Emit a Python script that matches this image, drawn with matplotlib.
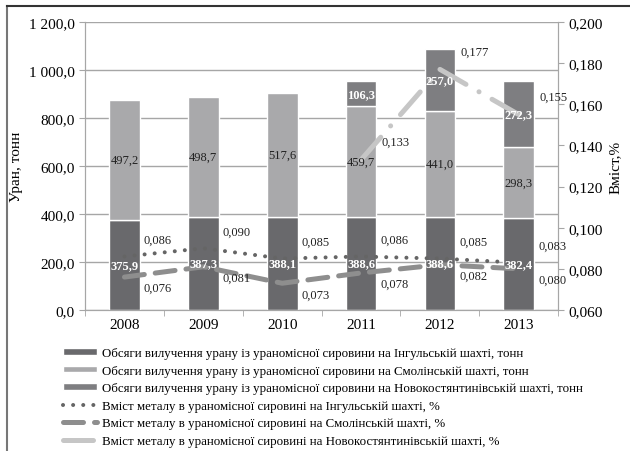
import numpy as np
import matplotlib
matplotlib.use("Agg")
import matplotlib.pyplot as plt
from matplotlib.lines import Line2D
from matplotlib.ticker import FixedLocator, FuncFormatter

plt.rcParams['font.family'] = ['Liberation Serif', 'DejaVu Serif']

years = ['2008', '2009', '2010', '2011', '2012', '2013']
inhul_t = [375.9, 387.3, 388.1, 388.6, 388.6, 382.4]
smol_t = [497.2, 498.7, 517.6, 459.7, 441.0, 298.3]
novo_t = [0, 0, 0, 106.3, 257.0, 272.3]
inhul_pct = [0.086, 0.090, 0.085, 0.086, 0.085, 0.083]
smol_pct = [0.076, 0.081, 0.073, 0.078, 0.082, 0.080]
novo_years = ['2011', '2012', '2013']
novo_pct = [0.133, 0.177, 0.155]

left_ticks = [0, 200, 400, 600, 800, 1000, 1200]
right_ticks = [0.060, 0.080, 0.100, 0.120, 0.140, 0.160, 0.180, 0.200]

labels = [
    'Обсяги вилучення урану із ураномісної сировини на Інгульській шахті, тонн',
    'Обсяги вилучення урану із ураномісної сировини на Смолінській шахті, тонн',
    'Обсяги вилучення урану із ураномісної сировини на Новокостянтинівській шахті, тонн',
    'Вміст металу в ураномісної сировині на Інгульській шахті, %',
    'Вміст металу в ураномісної сировині на Смолінській шахті, %',
    'Вміст металу в ураномісної сировині на Новокостянтинівській шахті, %',
]

c_inhul = '#69696c'
c_smol = '#a9a9ab'
c_novo = '#7e7e81'


def fmt1(v):
    s = f'{v:,.1f}'
    return s.replace(',', ' ').replace('.', ',')


def fmt3(v):
    return f'{v:.3f}'.replace('.', ',')


fig = plt.figure(figsize=(6.3, 4.52), dpi=100)
ax1 = fig.add_axes([0.135, 0.312, 0.751, 0.637])
ax2 = ax1.twinx()

x = np.arange(len(years))
w = 0.39
inhul_a = np.array(inhul_t)
smol_a = np.array(smol_t)
novo_a = np.array(novo_t)

ax1.bar(x, inhul_a, w, color=c_inhul, edgecolor='white', linewidth=1, label=labels[0])
ax1.bar(x, smol_a, w, bottom=inhul_a, color=c_smol, edgecolor='white', linewidth=1, label=labels[1])
nx = x[novo_a > 0]
ax1.bar(nx, novo_a[novo_a > 0], w, bottom=(inhul_a + smol_a)[novo_a > 0], color=c_novo,
        edgecolor='white', linewidth=1, label=labels[2])

ax1.set_ylim(0, 1200)
ax1.set_xlim(-0.5, len(years) - 0.5)
ax1.yaxis.set_major_locator(FixedLocator(left_ticks))
ax1.yaxis.set_major_formatter(FuncFormatter(lambda v, p: fmt1(v)))
ax1.set_axisbelow(True)
ax1.grid(axis='y', color='#a6a6a6', linewidth=1)
ax1.set_xticks(x)
ax1.set_xticklabels(years)
ax1.set_xticks(np.arange(len(years) + 1) - 0.5, minor=True)
ax1.tick_params(axis='x', which='major', length=0, labelsize=11, pad=6)
ax1.tick_params(axis='x', which='minor', length=4, color='#a6a6a6')
ax1.tick_params(axis='y', length=4, color='#a6a6a6', labelsize=11)
ax1.set_ylabel('Уран, тонн', fontsize=11, labelpad=4)

# lines
ax2.plot(x, inhul_pct, color='#656565', linewidth=2.9, linestyle=(0, (0.01, 2.5)),
         dash_capstyle='round', label=labels[3])
ax2.plot(x, smol_pct, color='#8e8e8e', linewidth=3.6, linestyle=(0, (4, 2.2)),
         dash_capstyle='round', label=labels[4])
nx2 = [years.index(y) for y in novo_years]
ax2.plot(nx2, novo_pct, color='#c6c6c6', linewidth=3.6, linestyle=(0, (6, 3, 0.01, 3)),
         dash_capstyle='round', solid_capstyle='round', label=labels[5])
ax2.set_ylim(0.060, 0.200)
ax2.yaxis.set_major_locator(FixedLocator(right_ticks))
ax2.yaxis.set_major_formatter(FuncFormatter(lambda v, p: fmt3(v)))
ax2.tick_params(axis='y', length=4, color='#a6a6a6', labelsize=11)
ax2.set_ylabel('Вміст,%', fontsize=11, labelpad=4)

for ax in (ax1, ax2):
    ax.spines['top'].set_visible(False)
    for sp in ('left', 'right', 'bottom'):
        ax.spines[sp].set_color('#a6a6a6')

# bar labels (drawn on ax2 so they sit above the lines)
for i in range(len(years)):
    ax2.text(x[i], inhul_a[i] / 2, fmt1(inhul_a[i]), transform=ax1.transData, ha='center',
             va='center', color='white', fontweight='bold', fontsize=9)
    ax2.text(x[i], inhul_a[i] + smol_a[i] / 2, fmt1(smol_a[i]), transform=ax1.transData,
             ha='center', va='center', color='#222222', fontsize=9)
    if novo_a[i] > 0:
        ax2.text(x[i], inhul_a[i] + smol_a[i] + novo_a[i] / 2, fmt1(novo_a[i]),
                 transform=ax1.transData, ha='center', va='center', color='white',
                 fontweight='bold', fontsize=9)

for i in range(len(years)):
    ax2.annotate(fmt3(inhul_pct[i]), (x[i], inhul_pct[i]), xytext=(24, 12),
                 textcoords='offset points', ha='center', va='center', fontsize=9, color='#222222')
    ax2.annotate(fmt3(smol_pct[i]), (x[i], smol_pct[i]), xytext=(24, -8),
                 textcoords='offset points', ha='center', va='center', fontsize=9, color='#222222')
for xi, v in zip(nx2, novo_pct):
    ax2.annotate(fmt3(v), (xi, v), xytext=(25, 13), textcoords='offset points',
                 ha='center', va='center', fontsize=9, color='#222222')

h1, l1 = ax1.get_legend_handles_labels()
h2, l2 = ax2.get_legend_handles_labels()
fig.legend(h1 + h2, l1 + l2, loc='upper left', bbox_to_anchor=(0.1, 0.230),
           frameon=False, fontsize=9.3, handlelength=2.65, handleheight=0.4,
           handletextpad=0.38, labelspacing=0.43, borderaxespad=0, borderpad=0)

# figure frame (left and top)
fig.add_artist(Line2D([0.011, 0.011], [0, 0.985], transform=fig.transFigure,
                      color='#777777', linewidth=1.5))
fig.add_artist(Line2D([0.011, 1.0], [0.985, 0.985], transform=fig.transFigure,
                      color='#333333', linewidth=1.5))

fig.savefig('out.png', dpi=100)
